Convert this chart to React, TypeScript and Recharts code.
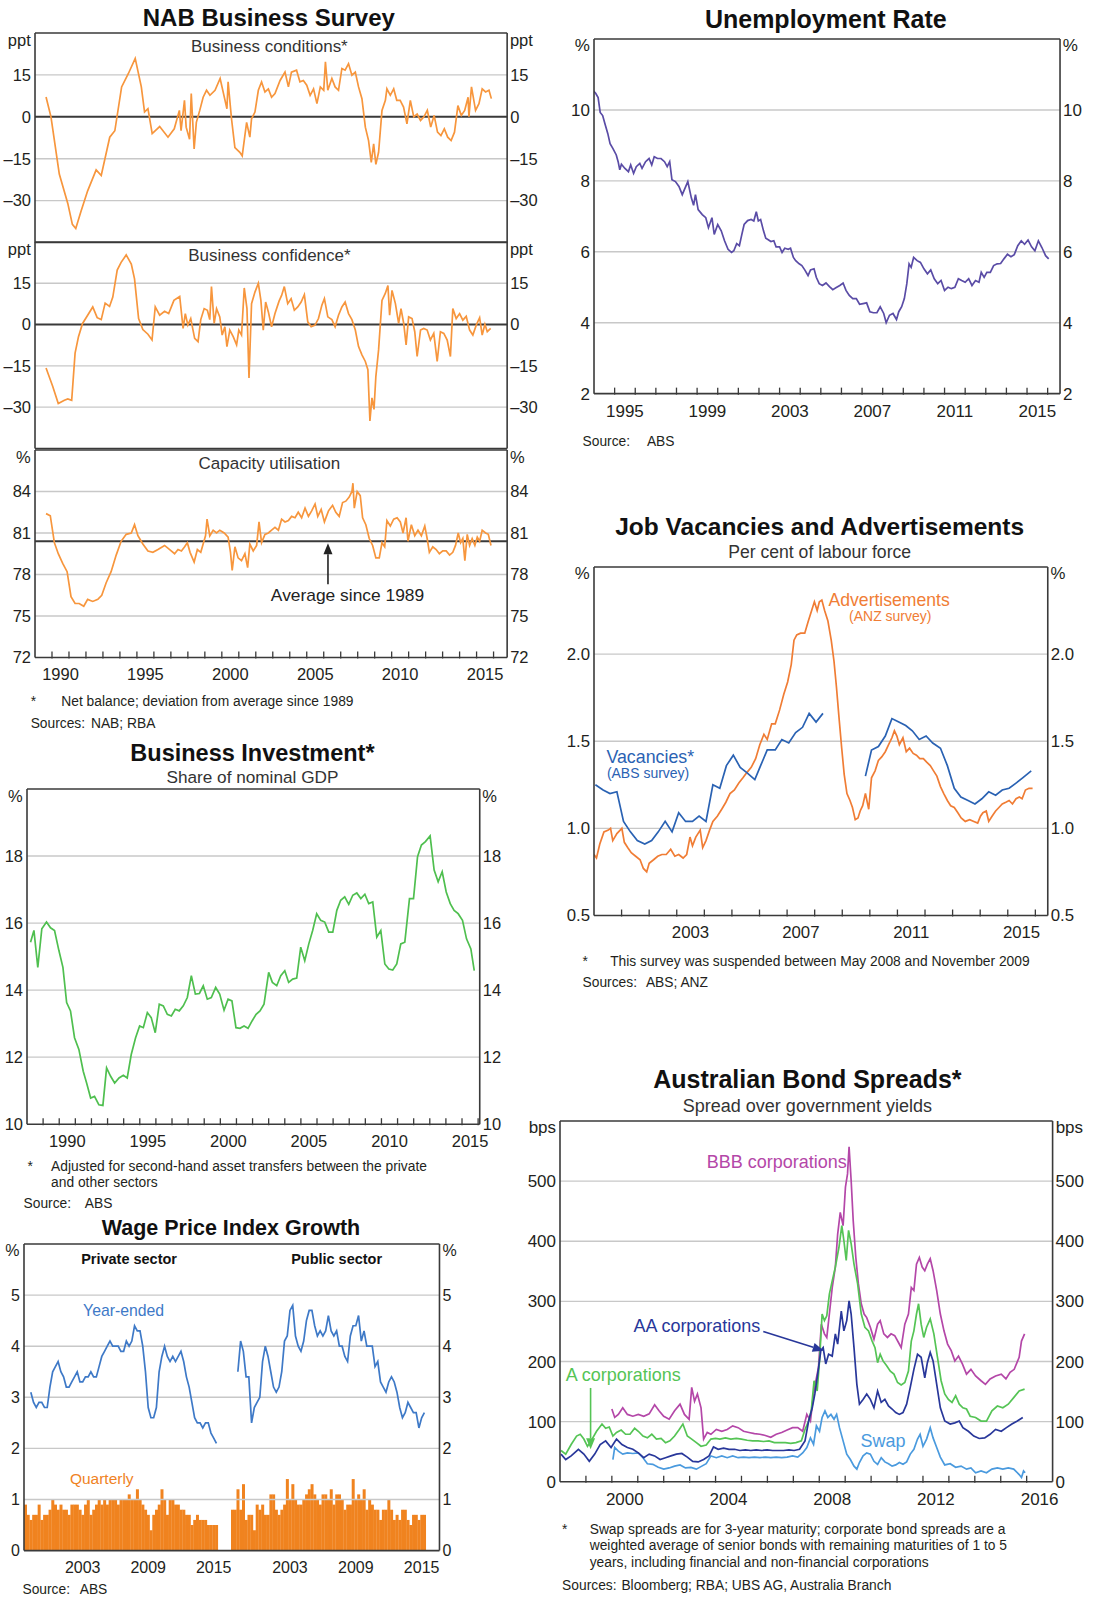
import React from 'react';
import { ComposedChart, Line, Bar, XAxis, YAxis, ReferenceLine, ReferenceDot } from 'recharts';

const FONT = '"Liberation Sans", Arial, Helvetica, sans-serif';
const TXT = '#231f20';
const GRID = '#c8c8c8';
const FRAME = '#3a3a3a';

// ---------------- DATA ----------------
// NAB business conditions (ppt, deviation from average) [year, value]
const nabConditions = [[1989.65,7.1],[1989.94,0],[1990.43,-20.5],[1990.93,-31],[1991.2,-38.5],[1991.4,-40],[1991.7,-34],[1992.1,-26.5],[1992.6,-19],[1992.9,-21],[1993.4,-7.3],[1993.7,-5],[1994.1,10.7],[1994.5,15.5],[1994.9,20.9],[1995.26,10.7],[1995.45,1.7],[1995.65,2.9],[1995.9,-6],[1996.34,-3.5],[1996.83,-7.3],[1997.2,-4.3],[1997.5,2.3],[1997.6,-5],[1997.8,5.9],[1997.9,-3.7],[1998.1,-8],[1998.2,8.3],[1998.37,-11.5],[1998.5,-2],[1998.7,2.3],[1998.9,7],[1999.1,9.5],[1999.3,7.7],[1999.6,9.5],[1999.9,13.7],[2000.1,8.3],[2000.3,2.9],[2000.37,12.5],[2000.57,-0.7],[2000.77,-11],[2001.06,-12.7],[2001.2,-14],[2001.46,-2],[2001.65,-7.3],[2001.75,-0.7],[2001.95,1.7],[2002.15,9.5],[2002.34,12.5],[2002.54,8.9],[2002.74,10],[2002.93,7],[2003.13,8.3],[2003.43,13],[2003.72,16],[2003.92,10.7],[2004.1,16],[2004.4,16.7],[2004.6,12.5],[2004.8,13],[2005.0,11.3],[2005.2,7.7],[2005.4,10],[2005.6,4.7],[2005.8,10.7],[2006.0,9.5],[2006.1,19.7],[2006.24,9.5],[2006.48,13.7],[2006.67,10.7],[2006.87,9.5],[2007.07,17.3],[2007.26,16.7],[2007.46,19],[2007.66,14.9],[2007.86,16],[2008.05,10.7],[2008.25,6.5],[2008.45,-3.7],[2008.64,-8.5],[2008.8,-16.3],[2008.94,-9.7],[2009.07,-17],[2009.23,-12.7],[2009.43,2.3],[2009.63,5.9],[2009.72,10],[2009.92,7.7],[2010.12,10],[2010.3,5.9],[2010.5,5.9],[2010.7,3.5],[2010.9,-2.5],[2011.1,5.9],[2011.3,0],[2011.5,1],[2011.7,-1.3],[2011.9,0],[2012.1,2.3],[2012.3,-3.7],[2012.5,0.5],[2012.7,-5.5],[2012.9,-6.7],[2013.1,-4.3],[2013.3,-7.3],[2013.5,-8.5],[2013.7,-5.5],[2013.9,4],[2014.1,0.5],[2014.3,2.3],[2014.5,7],[2014.55,0],[2014.7,10.7],[2014.94,2.3],[2015.14,4.7],[2015.33,10],[2015.53,8.9],[2015.73,9.5],[2015.87,6.5]];

// NAB business confidence (ppt)
const nabConfidence = [[1989.65,-15.8],[1990.04,-22.4],[1990.37,-28.7],[1990.73,-27.5],[1990.93,-27],[1991.16,-27.5],[1991.36,-10.4],[1991.56,-4.4],[1991.8,0.4],[1992.1,3.4],[1992.4,6.4],[1992.66,2.5],[1992.9,1.8],[1993.13,7.8],[1993.39,6.6],[1993.58,10],[1993.84,19.8],[1994.07,22.6],[1994.37,25.3],[1994.67,22],[1994.86,16.6],[1995.1,2.2],[1995.35,-1.8],[1995.65,-3.5],[1995.89,-5.6],[1996.08,6.4],[1996.34,3.4],[1996.63,4.8],[1996.87,4],[1997.18,8.8],[1997.52,10.2],[1997.72,-1.4],[1997.85,4],[1998.0,-0.2],[1998.17,2.2],[1998.4,-5],[1998.6,-6.2],[1998.76,1.8],[1998.96,5.8],[1999.15,5.2],[1999.29,1.8],[1999.39,13.8],[1999.55,0.4],[1999.69,5.8],[1999.88,2.8],[2000.02,-3.8],[2000.18,-0.8],[2000.3,-8],[2000.47,-2],[2000.67,-4.4],[2000.87,-7.4],[2001.0,-2],[2001.16,-3.8],[2001.32,13.3],[2001.48,5.8],[2001.6,-19.4],[2001.75,7.6],[2001.95,11.8],[2002.15,15],[2002.3,8.8],[2002.44,-2],[2002.58,8.2],[2002.74,4.6],[2002.93,-0.8],[2003.13,4],[2003.37,8.5],[2003.52,10.6],[2003.68,13.8],[2003.88,7.6],[2004.08,9.4],[2004.27,5.2],[2004.47,6.4],[2004.67,8.2],[2004.86,10.9],[2005.06,1],[2005.26,-0.8],[2005.49,-0.2],[2005.69,2.2],[2005.89,7],[2006.04,9.4],[2006.24,2.8],[2006.48,1.8],[2006.67,-0.8],[2006.87,3.4],[2007.07,6.4],[2007.26,8.2],[2007.46,4],[2007.66,1.8],[2007.86,-2],[2008.05,-8],[2008.25,-11],[2008.45,-13.4],[2008.6,-16.4],[2008.72,-35],[2008.84,-26.6],[2008.96,-30.8],[2009.07,-18.8],[2009.23,-9.2],[2009.43,8.8],[2009.63,11.4],[2009.78,14.2],[2009.88,3.4],[2010.02,12.4],[2010.22,7.6],[2010.41,0.4],[2010.55,5.8],[2010.71,0.4],[2010.85,-7.4],[2011.0,2.8],[2011.2,2.2],[2011.36,-2.6],[2011.5,-11.6],[2011.7,-2],[2011.89,-1.4],[2012.09,-2],[2012.28,-5.6],[2012.48,-3.2],[2012.68,-13.4],[2012.87,-2.6],[2013.07,-3.2],[2013.27,-5.6],[2013.46,-11.6],[2013.6,5.8],[2013.8,2.2],[2014.0,4],[2014.19,1.6],[2014.39,3],[2014.59,-2],[2014.78,-3.8],[2014.98,-0.2],[2015.18,2.5],[2015.33,-3.8],[2015.49,0.1],[2015.63,-2.6],[2015.83,-1.4]];

// NAB capacity utilisation (%)
const nabCapacity = [[1989.65,82.4],[1989.9,82.25],[1990.14,80.3],[1990.37,79.5],[1990.63,78.8],[1990.89,78.2],[1991.12,76.4],[1991.36,75.9],[1991.6,75.9],[1991.87,75.7],[1992.1,76.2],[1992.4,76.05],[1992.7,76.2],[1992.93,76.5],[1993.19,77.4],[1993.48,78.2],[1993.78,79.4],[1994.07,80.4],[1994.37,80.9],[1994.67,81.0],[1994.86,81.6],[1995.06,80.8],[1995.35,80.2],[1995.65,79.7],[1995.94,79.6],[1996.24,79.8],[1996.63,80.1],[1996.93,79.8],[1997.22,79.5],[1997.42,79.8],[1997.62,79.7],[1997.81,80.0],[1997.97,80.3],[1998.13,79.6],[1998.37,78.9],[1998.56,79.8],[1998.76,79.6],[1998.9,80.2],[1999.04,80.8],[1999.13,82.0],[1999.29,80.8],[1999.49,81.2],[1999.69,81.0],[1999.88,81.2],[2000.14,81.0],[2000.37,80.7],[2000.51,79.6],[2000.61,78.3],[2000.77,80.0],[2000.96,79.2],[2001.16,79.0],[2001.36,79.5],[2001.52,78.5],[2001.65,80.2],[2001.85,79.7],[2002.05,80.1],[2002.19,81.8],[2002.34,80.3],[2002.54,80.9],[2002.74,81.0],[2002.93,81.2],[2003.13,81.4],[2003.33,81.2],[2003.52,82.0],[2003.72,81.8],[2003.92,81.9],[2004.11,82.2],[2004.31,82.1],[2004.5,82.5],[2004.7,82.1],[2004.9,82.8],[2005.1,82.2],[2005.29,82.6],[2005.49,83.1],[2005.65,82.2],[2005.85,82.7],[2006.04,81.8],[2006.28,82.6],[2006.52,83.0],[2006.71,82.5],[2006.91,82.2],[2007.11,83.2],[2007.3,83.3],[2007.5,83.6],[2007.66,84.0],[2007.72,84.6],[2007.8,82.8],[2007.97,84.0],[2008.15,83.7],[2008.29,82.1],[2008.48,81.6],[2008.68,80.6],[2008.88,80.1],[2009.07,79.2],[2009.27,79.2],[2009.43,80.3],[2009.59,80.0],[2009.72,81.9],[2009.92,81.5],[2010.12,82.0],[2010.32,82.1],[2010.51,81.8],[2010.67,81.0],[2010.85,82.1],[2010.96,80.4],[2011.16,81.6],[2011.36,80.8],[2011.55,81.2],[2011.75,80.8],[2011.95,81.5],[2012.09,80.6],[2012.22,79.6],[2012.42,80.0],[2012.62,79.8],[2012.81,79.5],[2013.01,79.7],[2013.21,79.7],[2013.41,79.4],[2013.6,79.6],[2013.76,80.1],[2013.92,81.0],[2014.06,80.3],[2014.19,80.6],[2014.31,79.0],[2014.45,80.9],[2014.59,80.1],[2014.74,80.6],[2014.9,80.1],[2015.04,80.7],[2015.18,80.4],[2015.33,81.2],[2015.53,81.0],[2015.69,80.9],[2015.85,80.1]];
const capacityAverage = 80.4;

// Unemployment rate (%)
const unemployment = [[1993.97,10.54],[1994.08,10.47],[1994.2,10.35],[1994.3,9.93],[1994.42,9.84],[1994.53,9.61],[1994.67,9.33],[1994.78,9.05],[1994.92,8.91],[1995.08,8.73],[1995.17,8.54],[1995.25,8.31],[1995.33,8.47],[1995.5,8.35],[1995.67,8.26],[1995.78,8.45],[1995.92,8.21],[1996.05,8.4],[1996.22,8.49],[1996.33,8.35],[1996.5,8.54],[1996.67,8.63],[1996.8,8.45],[1996.92,8.68],[1997.08,8.63],[1997.25,8.63],[1997.42,8.54],[1997.55,8.4],[1997.67,8.54],[1997.78,8.03],[1997.95,7.98],[1998.12,7.84],[1998.28,7.61],[1998.42,7.8],[1998.55,7.98],[1998.72,7.52],[1998.83,7.31],[1998.92,7.61],[1999.05,7.19],[1999.25,7.05],[1999.42,6.96],[1999.55,6.68],[1999.72,6.96],[1999.83,6.49],[2000.0,6.77],[2000.17,6.59],[2000.33,6.31],[2000.5,6.07],[2000.67,5.98],[2000.78,6.03],[2000.92,6.23],[2001.05,6.17],[2001.17,6.49],[2001.28,6.77],[2001.45,6.88],[2001.62,6.91],[2001.75,6.87],[2001.87,7.13],[2001.97,6.87],[2002.08,6.91],[2002.22,6.59],[2002.33,6.38],[2002.45,6.34],[2002.58,6.29],[2002.72,6.31],[2002.83,6.14],[2003.0,6.14],[2003.12,5.98],[2003.25,6.1],[2003.42,6.07],[2003.53,6.1],[2003.67,5.84],[2003.78,5.75],[2003.95,5.66],[2004.08,5.61],[2004.22,5.49],[2004.38,5.33],[2004.5,5.49],[2004.67,5.52],[2004.78,5.28],[2004.92,5.1],[2005.08,5.05],[2005.25,5.12],[2005.42,5.02],[2005.58,4.93],[2005.75,4.99],[2005.92,5.05],[2006.08,5.12],[2006.22,4.91],[2006.38,4.77],[2006.55,4.68],[2006.72,4.68],[2006.88,4.52],[2007.05,4.54],[2007.22,4.56],[2007.38,4.31],[2007.55,4.28],[2007.72,4.28],[2007.88,4.45],[2008.05,4.26],[2008.17,4.0],[2008.33,4.21],[2008.5,4.26],[2008.67,4.09],[2008.78,4.31],[2008.92,4.45],[2009.05,4.68],[2009.17,5.1],[2009.28,5.66],[2009.38,5.56],[2009.5,5.84],[2009.67,5.75],[2009.83,5.7],[2010.0,5.52],[2010.17,5.38],[2010.33,5.49],[2010.5,5.24],[2010.67,5.1],[2010.83,5.19],[2011.0,4.91],[2011.17,5.0],[2011.33,4.96],[2011.5,5.0],[2011.67,5.24],[2011.83,5.19],[2012.0,5.14],[2012.17,5.24],[2012.33,5.05],[2012.5,5.19],[2012.67,5.14],[2012.78,5.42],[2012.92,5.28],[2013.05,5.42],[2013.22,5.42],[2013.38,5.61],[2013.55,5.66],[2013.72,5.67],[2013.88,5.8],[2014.05,5.93],[2014.22,5.86],[2014.38,5.92],[2014.55,6.17],[2014.72,6.31],[2014.88,6.21],[2015.05,6.33],[2015.22,6.14],[2015.38,6.03],[2015.55,6.31],[2015.72,6.12],[2015.9,5.89],[2016.05,5.8]];

// Business investment, share of nominal GDP (%)
const businessInvestment = [[1988.22,15.43],[1988.43,15.78],[1988.67,14.68],[1988.92,15.83],[1989.21,16.03],[1989.46,15.86],[1989.71,15.78],[1989.98,15.18],[1990.23,14.68],[1990.46,13.63],[1990.7,13.38],[1990.95,12.58],[1991.22,12.23],[1991.49,11.58],[1991.7,11.23],[1991.95,10.78],[1992.19,10.83],[1992.46,10.58],[1992.71,10.56],[1992.94,11.68],[1993.19,11.43],[1993.44,11.23],[1993.71,11.38],[1993.98,11.46],[1994.22,11.38],[1994.47,12.08],[1994.74,12.58],[1994.99,12.93],[1995.22,12.88],[1995.47,13.33],[1995.71,13.18],[1995.96,12.73],[1996.21,13.58],[1996.46,13.53],[1996.71,13.28],[1996.96,13.23],[1997.2,13.43],[1997.45,13.38],[1997.7,13.53],[1997.95,13.78],[1998.2,14.43],[1998.45,13.88],[1998.7,13.9],[1998.94,14.13],[1999.19,13.73],[1999.44,13.78],[1999.71,14.08],[1999.96,13.88],[2000.23,13.4],[2000.48,13.73],[2000.72,13.68],[2000.97,12.88],[2001.22,12.86],[2001.47,12.93],[2001.72,12.86],[2001.97,13.08],[2002.22,13.28],[2002.46,13.38],[2002.71,13.58],[2003.0,14.53],[2003.23,14.23],[2003.5,14.13],[2003.75,14.43],[2004.0,14.58],[2004.24,14.23],[2004.49,14.33],[2004.74,14.36],[2004.99,15.28],[2005.24,14.88],[2005.49,15.38],[2005.73,15.78],[2005.98,16.28],[2006.23,16.08],[2006.48,16.03],[2006.73,15.73],[2006.98,15.73],[2007.23,16.38],[2007.47,16.68],[2007.72,16.78],[2007.97,16.56],[2008.22,16.83],[2008.47,16.9],[2008.72,16.73],[2008.97,16.86],[2009.21,16.58],[2009.46,16.63],[2009.71,15.58],[2009.96,15.78],[2010.21,14.78],[2010.46,14.63],[2010.7,14.6],[2010.95,14.78],[2011.2,15.38],[2011.45,15.43],[2011.74,16.73],[2011.99,16.73],[2012.24,17.98],[2012.48,18.33],[2012.73,18.43],[2013.02,18.6],[2013.27,17.58],[2013.52,17.23],[2013.77,17.53],[2014.02,16.93],[2014.27,16.58],[2014.51,16.38],[2014.76,16.28],[2015.03,16.08],[2015.28,15.53],[2015.55,15.23],[2015.76,14.58]];

// Job advertisements (ANZ), per cent of labour force
const advertisements = [[2000.0,0.85],[2000.09,0.83],[2000.21,0.91],[2000.36,0.98],[2000.52,0.99],[2000.6,1.0],[2000.68,0.93],[2000.83,0.97],[2000.95,0.99],[2001.01,1.0],[2001.1,0.92],[2001.22,0.89],[2001.35,0.86],[2001.51,0.84],[2001.67,0.82],[2001.79,0.77],[2001.91,0.75],[2002.0,0.8],[2002.16,0.82],[2002.31,0.84],[2002.46,0.85],[2002.62,0.85],[2002.78,0.88],[2002.93,0.84],[2003.07,0.85],[2003.23,0.83],[2003.36,0.85],[2003.48,0.95],[2003.57,0.9],[2003.69,0.95],[2003.85,0.99],[2003.94,0.89],[2004.06,0.93],[2004.19,0.99],[2004.31,1.04],[2004.47,1.07],[2004.63,1.11],[2004.78,1.15],[2004.93,1.2],[2005.09,1.22],[2005.25,1.26],[2005.4,1.29],[2005.54,1.32],[2005.7,1.35],[2005.86,1.4],[2006.01,1.48],[2006.16,1.54],[2006.28,1.51],[2006.44,1.6],[2006.57,1.6],[2006.73,1.68],[2006.88,1.77],[2007.02,1.84],[2007.15,1.94],[2007.25,2.08],[2007.35,2.11],[2007.49,2.12],[2007.64,2.12],[2007.77,2.19],[2007.89,2.25],[2007.99,2.3],[2008.09,2.25],[2008.17,2.3],[2008.26,2.31],[2008.36,2.25],[2008.48,2.19],[2008.6,2.08],[2008.7,1.96],[2008.79,1.81],[2008.88,1.64],[2008.98,1.46],[2009.07,1.31],[2009.17,1.2],[2009.28,1.16],[2009.37,1.12],[2009.47,1.05],[2009.57,1.06],[2009.65,1.1],[2009.74,1.13],[2009.84,1.2],[2009.96,1.11],[2010.06,1.29],[2010.19,1.33],[2010.31,1.39],[2010.43,1.41],[2010.56,1.44],[2010.68,1.48],[2010.8,1.52],[2010.89,1.56],[2010.98,1.53],[2011.07,1.48],[2011.2,1.52],[2011.32,1.44],[2011.44,1.46],[2011.57,1.43],[2011.69,1.42],[2011.81,1.4],[2011.94,1.4],[2012.06,1.38],[2012.19,1.36],[2012.31,1.33],[2012.43,1.3],[2012.56,1.24],[2012.68,1.2],[2012.81,1.16],[2012.93,1.13],[2013.06,1.12],[2013.19,1.09],[2013.31,1.06],[2013.46,1.04],[2013.62,1.05],[2013.77,1.04],[2013.91,1.03],[2014.01,1.07],[2014.1,1.09],[2014.22,1.1],[2014.31,1.04],[2014.43,1.07],[2014.56,1.1],[2014.68,1.12],[2014.8,1.14],[2014.93,1.15],[2015.05,1.16],[2015.17,1.14],[2015.3,1.17],[2015.42,1.18],[2015.52,1.17],[2015.64,1.22],[2015.77,1.23],[2015.9,1.23]];
// Job vacancies (ABS), survey suspended May 2008 - Nov 2009
const vacanciesPre = [[2000.05,1.25],[2000.33,1.22],[2000.58,1.2],[2000.83,1.21],[2001.07,1.04],[2001.32,0.98],[2001.57,0.93],[2001.84,0.91],[2002.09,0.93],[2002.33,0.98],[2002.58,1.04],[2002.83,0.98],[2003.07,1.09],[2003.32,1.04],[2003.57,1.04],[2003.81,1.07],[2004.06,1.04],[2004.31,1.25],[2004.56,1.23],[2004.8,1.36],[2005.05,1.42],[2005.3,1.35],[2005.54,1.32],[2005.83,1.28],[2006.04,1.36],[2006.28,1.45],[2006.57,1.45],[2006.81,1.51],[2007.06,1.49],[2007.31,1.55],[2007.56,1.58],[2007.8,1.66],[2008.05,1.61],[2008.3,1.66]];
const vacanciesPost = [[2009.84,1.3],[2010.06,1.45],[2010.31,1.47],[2010.56,1.53],[2010.8,1.63],[2011.05,1.61],[2011.3,1.59],[2011.54,1.56],[2011.79,1.51],[2012.04,1.53],[2012.28,1.49],[2012.56,1.46],[2012.81,1.36],[2013.06,1.23],[2013.3,1.18],[2013.56,1.16],[2013.81,1.14],[2014.06,1.17],[2014.31,1.21],[2014.56,1.19],[2014.8,1.22],[2015.05,1.23],[2015.3,1.26],[2015.54,1.29],[2015.85,1.33]];

// Wage price index growth (%), quarterly from 1998Q1; year-ended from 1998Q3
const wageQuarters = Array.from({ length: 76 }, (_, i) => `${1998 + Math.floor(i / 4)}Q${(i % 4) + 1}`);
const privateQuarterly = [0.9,0.7,0.6,0.7,0.7,0.9,0.6,0.7,0.7,0.8,1.0,0.9,0.8,0.9,0.8,0.8,0.7,0.9,0.9,0.9,0.8,0.7,0.9,1.0,0.7,0.8,0.9,1.0,0.9,1.0,0.9,1.0,1.0,1.0,0.9,1.0,1.0,1.0,1.1,1.0,1.0,1.2,1.0,0.9,0.8,0.7,0.4,0.7,0.8,0.9,1.2,1.0,0.7,1.0,1.0,0.9,0.9,0.8,0.8,0.7,0.7,0.5,0.6,0.7,0.6,0.6,0.6,0.5,0.5,0.5,0.5];
const privateYearEnded = [3.1,2.9,2.8,2.9,2.9,2.8,2.8,3.2,3.5,3.6,3.7,3.5,3.4,3.2,3.2,3.3,3.4,3.5,3.3,3.3,3.4,3.4,3.5,3.4,3.4,3.6,3.8,3.9,4.0,4.1,4.0,4.0,4.0,3.9,3.9,4.1,4.0,4.1,4.4,4.3,4.3,4.0,3.5,2.8,2.6,2.6,2.8,3.5,3.8,4.0,3.8,3.7,3.8,3.7,3.8,3.9,3.7,3.4,3.2,2.9,2.6,2.5,2.5,2.4,2.5,2.5,2.3,2.2,2.1];
const publicQuarterly = [0.8,0.8,1.2,0.8,1.3,0.6,0.7,0.7,0.4,0.9,0.8,0.9,0.7,0.7,1.1,1.1,0.8,0.7,0.8,0.9,1.4,1.0,1.3,1.0,0.9,0.9,1.0,1.1,1.2,1.3,1.1,1.0,0.9,1.1,1.1,1.0,1.2,0.9,1.1,1.1,1.0,0.8,0.9,0.9,1.4,1.0,1.1,1.0,1.2,0.8,1.0,0.9,0.8,0.8,0.6,0.8,0.8,1.0,0.8,0.6,0.7,0.6,0.8,0.8,0.6,0.5,0.7,0.7,0.6,0.7,0.7];
const publicYearEnded = [3.5,4.1,3.9,3.4,3.4,2.5,2.8,2.9,3.0,3.7,4.0,3.8,3.5,3.2,3.1,3.2,3.5,4.1,4.2,4.7,4.8,4.2,4.0,3.9,4.1,4.5,4.7,4.7,4.4,4.2,4.3,4.2,4.3,4.6,4.3,4.2,4.3,4.0,4.0,3.8,3.7,4.2,4.4,4.4,4.6,4.1,4.3,4.0,4.0,4.0,3.6,3.7,3.3,3.2,3.1,3.3,3.4,3.3,3.1,2.8,2.6,2.7,2.9,2.8,2.7,2.7,2.4,2.6,2.7];
const yearEndedStart = 2;

// Australian bond spreads (bps)
const spreadA = [[1998.04,52],[1998.22,46],[1998.43,62],[1998.64,76],[1998.78,79],[1998.92,71],[1999.06,59],[1999.2,68],[1999.41,84],[1999.62,96],[1999.76,89],[1999.9,91],[2000.04,76],[2000.18,82],[2000.36,86],[2000.53,79],[2000.7,79],[2000.88,89],[2001.02,84],[2001.2,76],[2001.37,73],[2001.54,79],[2001.72,71],[2001.9,72],[2002.07,65],[2002.24,68],[2002.42,76],[2002.6,87],[2002.74,96],[2002.91,76],[2003.08,71],[2003.26,65],[2003.44,59],[2003.64,61],[2003.82,71],[2004.0,72],[2004.17,71],[2004.38,73],[2004.59,71],[2004.8,72],[2005.0,71],[2005.22,69],[2005.43,68],[2005.64,68],[2005.85,67],[2006.06,68],[2006.27,65],[2006.48,65],[2006.69,65],[2006.9,64],[2007.1,65],[2007.31,68],[2007.45,87],[2007.59,101],[2007.69,118],[2007.8,168],[2007.92,151],[2008.01,201],[2008.11,279],[2008.2,268],[2008.29,276],[2008.39,312],[2008.5,334],[2008.62,357],[2008.76,390],[2008.87,426],[2008.95,401],[2009.04,368],[2009.13,418],[2009.23,396],[2009.34,362],[2009.48,329],[2009.62,279],[2009.76,257],[2009.9,251],[2010.04,234],[2010.15,223],[2010.25,198],[2010.35,212],[2010.46,201],[2010.6,193],[2010.74,184],[2010.88,179],[2011.02,165],[2011.16,161],[2011.3,165],[2011.44,184],[2011.55,234],[2011.65,251],[2011.75,279],[2011.83,296],[2011.93,262],[2012.03,240],[2012.14,257],[2012.28,271],[2012.42,246],[2012.56,207],[2012.7,168],[2012.84,146],[2012.98,137],[2013.12,132],[2013.26,143],[2013.4,129],[2013.54,123],[2013.68,121],[2013.82,109],[2014.03,107],[2014.24,101],[2014.45,101],[2014.66,118],[2014.87,126],[2015.08,123],[2015.29,129],[2015.5,140],[2015.71,151],[2015.92,154]];
const spreadAA = [[1998.04,46],[1998.22,37],[1998.43,43],[1998.71,54],[1998.92,46],[1999.13,34],[1999.34,46],[1999.55,62],[1999.76,68],[1999.97,57],[2000.18,71],[2000.39,62],[2000.6,57],[2000.81,54],[2001.02,48],[2001.23,40],[2001.44,46],[2001.65,43],[2001.86,37],[2002.07,40],[2002.28,43],[2002.49,46],[2002.7,47],[2002.91,41],[2003.12,34],[2003.33,33],[2003.54,37],[2003.75,43],[2003.92,58],[2004.1,54],[2004.31,56],[2004.52,54],[2004.73,54],[2004.94,52],[2005.15,53],[2005.36,52],[2005.57,53],[2005.78,52],[2005.99,53],[2006.2,52],[2006.41,52],[2006.62,52],[2006.83,53],[2007.03,52],[2007.24,54],[2007.45,68],[2007.59,101],[2007.73,123],[2007.83,146],[2007.94,179],[2008.06,218],[2008.15,223],[2008.25,196],[2008.36,212],[2008.5,209],[2008.62,246],[2008.71,229],[2008.85,284],[2008.95,251],[2009.06,268],[2009.15,301],[2009.23,279],[2009.34,223],[2009.45,162],[2009.55,129],[2009.69,137],[2009.83,146],[2009.97,137],[2010.11,123],[2010.25,151],[2010.39,132],[2010.53,137],[2010.67,126],[2010.81,121],[2010.95,115],[2011.09,112],[2011.23,115],[2011.37,129],[2011.51,157],[2011.65,187],[2011.79,212],[2011.93,207],[2012.07,173],[2012.17,198],[2012.28,215],[2012.39,201],[2012.53,162],[2012.67,123],[2012.84,101],[2013.05,96],[2013.23,98],[2013.4,101],[2013.54,90],[2013.75,84],[2013.96,76],[2014.17,72],[2014.38,73],[2014.59,79],[2014.8,87],[2015.02,84],[2015.22,90],[2015.43,96],[2015.64,101],[2015.85,107]];
const spreadBBB = [[2000.0,121],[2000.11,107],[2000.25,112],[2000.42,123],[2000.6,112],[2000.81,109],[2001.02,112],[2001.23,109],[2001.44,113],[2001.65,128],[2001.82,118],[2002.0,109],[2002.21,104],[2002.42,118],[2002.63,129],[2002.8,112],[2002.98,104],[2003.08,157],[2003.19,134],[2003.3,146],[2003.44,123],[2003.54,71],[2003.68,82],[2003.82,79],[2004.03,87],[2004.24,84],[2004.45,87],[2004.66,93],[2004.87,90],[2005.08,84],[2005.29,82],[2005.5,80],[2005.71,79],[2005.92,77],[2006.13,74],[2006.34,79],[2006.55,82],[2006.76,86],[2006.97,90],[2007.17,90],[2007.36,84],[2007.52,112],[2007.66,101],[2007.78,146],[2007.87,168],[2007.97,190],[2008.08,262],[2008.2,246],[2008.29,240],[2008.39,279],[2008.5,323],[2008.62,357],[2008.71,412],[2008.81,448],[2008.92,426],[2009.01,490],[2009.09,512],[2009.15,557],[2009.23,501],[2009.31,434],[2009.41,373],[2009.51,329],[2009.62,296],[2009.73,279],[2009.83,273],[2009.97,257],[2010.11,237],[2010.25,262],[2010.35,268],[2010.49,246],[2010.63,240],[2010.77,246],[2010.91,243],[2011.05,232],[2011.16,223],[2011.3,262],[2011.44,279],[2011.55,323],[2011.65,318],[2011.75,362],[2011.86,373],[2011.97,357],[2012.07,351],[2012.17,362],[2012.28,371],[2012.39,351],[2012.53,318],[2012.67,279],[2012.81,251],[2012.95,229],[2013.09,218],[2013.23,201],[2013.37,209],[2013.52,196],[2013.68,179],[2013.85,187],[2014.03,176],[2014.24,168],[2014.41,162],[2014.59,171],[2014.8,176],[2015.02,179],[2015.2,171],[2015.36,182],[2015.52,187],[2015.71,207],[2015.8,234],[2015.92,246]];
const spreadSwap = [[2000.04,37],[2000.11,57],[2000.25,51],[2000.42,46],[2000.6,48],[2000.81,47],[2001.02,48],[2001.2,40],[2001.37,30],[2001.58,29],[2001.79,24],[2002.0,21],[2002.21,23],[2002.42,26],[2002.63,28],[2002.84,23],[2003.05,24],[2003.26,21],[2003.47,26],[2003.64,30],[2003.82,43],[2004.03,40],[2004.24,43],[2004.45,40],[2004.66,43],[2004.87,40],[2005.08,41],[2005.29,40],[2005.5,41],[2005.71,40],[2005.92,41],[2006.13,40],[2006.34,41],[2006.55,40],[2006.76,41],[2006.97,43],[2007.17,41],[2007.36,48],[2007.52,57],[2007.66,73],[2007.78,62],[2007.89,93],[2008.01,84],[2008.11,107],[2008.22,118],[2008.33,107],[2008.45,112],[2008.57,104],[2008.67,112],[2008.78,90],[2008.92,68],[2009.06,46],[2009.2,37],[2009.34,26],[2009.45,21],[2009.55,32],[2009.69,43],[2009.83,48],[2009.97,46],[2010.11,34],[2010.25,29],[2010.39,40],[2010.53,33],[2010.67,30],[2010.81,26],[2010.95,28],[2011.09,32],[2011.23,29],[2011.37,33],[2011.51,46],[2011.65,54],[2011.79,71],[2011.89,79],[2012.0,59],[2012.14,71],[2012.28,90],[2012.39,73],[2012.53,57],[2012.67,41],[2012.84,28],[2013.05,30],[2013.26,24],[2013.47,26],[2013.68,21],[2013.85,23],[2014.03,15],[2014.24,18],[2014.45,15],[2014.66,21],[2014.87,23],[2015.08,21],[2015.29,23],[2015.5,21],[2015.71,12],[2015.8,7],[2015.88,18],[2015.94,15]];

// ---------------- helpers ----------------
const S = 1.022; // page layout scale
const k = (v: number) => v * S;
const rows = (pairs: number[][]) => pairs.map(([x, y]) => ({ x, y }));
const range = (a: number, b: number, step = 1) => { const r: number[] = []; for (let v = a; v <= b + 1e-9; v += step) r.push(v); return r; };
const dashFmt = (v: number) => (v < 0 ? '\u2013' + Math.abs(v) : String(v));

const Txt = ({ x, y, children, size = 13.8, bold = false, color = TXT, anchor = 'start' }: any) => (
  <div style={{ position: 'absolute', left: x, top: y, transform: `translate(${anchor === 'middle' ? '-50%' : anchor === 'end' ? '-100%' : '0'}, -50%)`, fontSize: size, fontWeight: bold ? 700 : 400, color, fontFamily: FONT, whiteSpace: 'nowrap', lineHeight: 1.1 }}>{children}</div>
);

const InTick = (props: any) => {
  const { x, y } = props;
  return <line x1={x} x2={x} y1={y} y2={y - 7} stroke={FRAME} strokeWidth={1.3} />;
};

const textShape = (label: string, color: string, size = 17, anchor = 'middle', weight = 400) => (p: any) => (
  <text x={p.cx} y={p.cy} textAnchor={anchor} dominantBaseline="central" fill={color} fontSize={size} fontFamily={FONT} fontWeight={weight}>{label}</text>
);

const arrowShape = (color: string) => (p: any) => {
  const { x1, y1, x2, y2 } = p;
  const a = Math.atan2(y2 - y1, x2 - x1);
  const L = 11, w = 4.5;
  const bx = x2 - L * Math.cos(a), by = y2 - L * Math.sin(a);
  const pts = `${x2},${y2} ${bx + w * Math.sin(a)},${by - w * Math.cos(a)} ${bx - w * Math.sin(a)},${by + w * Math.cos(a)}`;
  return <g><line x1={x1} y1={y1} x2={bx} y2={by} stroke={color} strokeWidth={1.6} /><polygon points={pts} fill={color} /></g>;
};

type PanelCfg = {
  px0: number; px1: number; py0: number; py1: number;
  yWL: number; yWR: number; mt?: number; mb?: number;
  xDomain?: [number, number]; category?: boolean; data?: any[];
  yDomain: [number, number]; yTicks: number[]; grid: number[];
  yFmt?: (v: number) => string; unit?: string; fs?: number;
  leftLabels?: boolean; rightLabels?: boolean;
  tickYears?: number[]; labelYears?: number[]; catTicks?: string[];
  children?: any;
};

function Panel(p: PanelCfg) {
  const mt = p.mt ?? 2, mb = p.mb ?? 2;
  const nB = p.tickYears ? 2 : 1;
  const width = p.px1 - p.px0 + p.yWL + p.yWR;
  const height = p.py1 - p.py0 + mt + 1 + mb + nB;
  const fs = p.fs ?? 16.5;
  const tickStyle = { fill: TXT, fontSize: fs, fontFamily: FONT };
  const xProps: any = p.category
    ? { dataKey: 'q', type: 'category' }
    : { dataKey: 'x', type: 'number', domain: p.xDomain, allowDataOverflow: true };
  return (
    <>
      <div style={{ position: 'absolute', left: p.px0 - p.yWL, top: p.py0 - mt - 1, width, height }}>
        <ComposedChart width={width} height={height} data={p.data} margin={{ top: mt, right: 0, bottom: mb, left: 0 }} barCategoryGap={0} barGap={0}>
          {p.grid.map((v) => <ReferenceLine key={'g' + v} y={v} stroke={GRID} strokeWidth={1.4} />)}
          <XAxis xAxisId="top" orientation="top" {...xProps} height={1} tick={false} tickLine={false} axisLine={{ stroke: FRAME, strokeWidth: 1.6 }} />
          {p.tickYears ? (
            <XAxis xAxisId="tk" {...xProps} height={1} ticks={p.tickYears} interval={0} tickLine={false} tickSize={0} tickMargin={0} axisLine={false} tick={InTick} />
          ) : null}
          <XAxis xAxisId={0} {...xProps} height={1}
            ticks={p.category ? p.catTicks : p.labelYears}
            interval={0}
            tickFormatter={(v: any) => String(v).slice(0, 4)}
            tick={p.labelYears || p.catTicks ? tickStyle : false}
            tickLine={false} tickSize={0} tickMargin={11}
            axisLine={{ stroke: FRAME, strokeWidth: 1.6 }} />
          <YAxis yAxisId={0} width={p.yWL} domain={p.yDomain} allowDataOverflow ticks={p.yTicks} interval={0}
            tickFormatter={p.yFmt} tick={p.leftLabels ? tickStyle : false} tickLine={false} tickSize={0} tickMargin={4}
            axisLine={{ stroke: FRAME, strokeWidth: 1.6 }} />
          <YAxis yAxisId="r" orientation="right" width={p.yWR} domain={p.yDomain} allowDataOverflow ticks={p.yTicks} interval={0}
            tickFormatter={p.yFmt} tick={p.rightLabels ? tickStyle : false} tickLine={false} tickSize={0} tickMargin={3}
            axisLine={{ stroke: FRAME, strokeWidth: 1.6 }} />
          {p.children}
        </ComposedChart>
      </div>
      {p.unit && p.leftLabels ? <Txt x={p.px0 - 4} y={p.py0 + 7} size={fs} anchor="end">{p.unit}</Txt> : null}
      {p.unit && p.rightLabels ? <Txt x={p.px1 + 3} y={p.py0 + 7} size={fs}>{p.unit}</Txt> : null}
    </>
  );
}

const NAB_ORANGE = '#f7963d';
const UNEMP = '#5a4ca6';
const GREEN = '#4fbf4f';
const ADS = '#f07d35';
const VAC = '#2a62b3';
const WAGE_LINE = '#3e79c7';
const WAGE_BAR = '#f0831f';
const BBB = '#b447a8';
const ACOL = '#55c455';
const AACOL = '#28379a';
const SWAP = '#4a9ade';

const lineProps = { dot: false, isAnimationActive: false, type: 'linear' as const, strokeWidth: 1.7 };

function wageRows(q: number[], ye: number[]) {
  return wageQuarters.map((name, i) => ({
    q: name,
    qtr: i < q.length ? q[i] : null,
    ye: i >= yearEndedStart && i - yearEndedStart < ye.length ? ye[i - yearEndedStart] : null,
  }));
}

export default function App() {
  const nabX: [number, number] = [1989, 2016.8];
  const nabTicks = range(1990, 2016);
  const nabLabels = [1990.5, 1995.5, 2000.5, 2005.5, 2010.5, 2015.5];
  const nabPanel = { px0: k(34), px1: k(496), yWL: 36, yWR: 36, xDomain: nabX, leftLabels: true, rightLabels: true, fs: 16.5 };
  const privData = wageRows(privateQuarterly, privateYearEnded);
  const pubData = wageRows(publicQuarterly, publicYearEnded);
  const wageCommon = { py0: k(1217), py1: k(1517), category: true, yDomain: [0, 6] as [number, number], yTicks: [0, 1, 2, 3, 4, 5], grid: [1, 2, 3, 4, 5], unit: '%', catTicks: ['2003Q2', '2009Q2', '2015Q2'], mb: 30, fs: 16 };

  return (
    <div style={{ position: 'absolute', left: 0, top: 0, width: 1096, height: 1601, background: '#fff', fontFamily: FONT, overflow: 'hidden' }}>
      {/* ---------- NAB Business Survey ---------- */}
      <Txt x={k(263)} y={k(18)} size={24} bold anchor="middle" color="#111">NAB Business Survey</Txt>
      <Panel {...nabPanel} py0={k(32)} py1={k(237)} yDomain={[-45, 30]} yTicks={[-30, -15, 0, 15]} yFmt={dashFmt} grid={[-30, -15, 15]} unit="ppt">
        <ReferenceLine y={0} stroke={FRAME} strokeWidth={2} />
        <Line data={rows(nabConditions)} dataKey="y" stroke={NAB_ORANGE} {...lineProps} />
        <ReferenceDot x={2002.8} y={25.2} r={1} shape={textShape('Business conditions*', '#333', 17)} />
      </Panel>
      <Panel {...nabPanel} py0={k(237)} py1={k(439)} yDomain={[-45, 30]} yTicks={[-30, -15, 0, 15]} yFmt={dashFmt} grid={[-30, -15, 15]} unit="ppt">
        <ReferenceLine y={0} stroke={FRAME} strokeWidth={2} />
        <Line data={rows(nabConfidence)} dataKey="y" stroke={NAB_ORANGE} {...lineProps} />
        <ReferenceDot x={2002.8} y={25.2} r={1} shape={textShape('Business confidence*', '#333', 17)} />
      </Panel>
      <Panel {...nabPanel} py0={k(440)} py1={k(643)} mb={30} yDomain={[72, 87]} yTicks={[72, 75, 78, 81, 84]} grid={[75, 78, 81, 84]} unit="%" tickYears={nabTicks} labelYears={nabLabels}>
        <ReferenceLine y={capacityAverage} stroke={FRAME} strokeWidth={2} />
        <Line data={rows(nabCapacity)} dataKey="y" stroke={NAB_ORANGE} {...lineProps} />
        <ReferenceDot x={2002.8} y={86.05} r={1} shape={textShape('Capacity utilisation', '#333', 17)} />
        <ReferenceLine segment={[{ x: 2006.25, y: 77.3 }, { x: 2006.25, y: 80.25 }]} ifOverflow="visible" shape={arrowShape('#222')} />
        <ReferenceDot x={2007.4} y={76.55} r={1} shape={textShape('Average since 1989', '#222', 17.4)} />
      </Panel>
      <Txt x={k(30)} y={k(687)}>*</Txt>
      <Txt x={k(60)} y={k(687)}>Net balance; deviation from average since 1989</Txt>
      <Txt x={k(30)} y={k(708)}>Sources:</Txt>
      <Txt x={k(89)} y={k(708)}>NAB; RBA</Txt>

      {/* ---------- Unemployment Rate ---------- */}
      <Txt x={k(808)} y={k(20)} size={25} bold anchor="middle" color="#111">Unemployment Rate</Txt>
      <Panel px0={k(581)} px1={k(1037)} py0={k(38)} py1={k(385)} yWL={36} yWR={36} mb={30} xDomain={[1994, 2016.6]} fs={17}
        yDomain={[2, 12]} yTicks={[2, 4, 6, 8, 10]} grid={[4, 6, 8, 10]} unit="%" leftLabels rightLabels
        tickYears={range(1995, 2016)} labelYears={[1995.5, 1999.5, 2003.5, 2007.5, 2011.5, 2015.5]}>
        <Line data={rows(unemployment)} dataKey="y" stroke={UNEMP} {...lineProps} />
      </Panel>
      <Txt x={k(570)} y={k(432)}>Source:</Txt>
      <Txt x={k(633)} y={k(432)}>ABS</Txt>

      {/* ---------- Business Investment ---------- */}
      <Txt x={k(247)} y={k(738)} size={23.5} bold anchor="middle" color="#111">Business Investment*</Txt>
      <Txt x={k(247)} y={k(760)} size={17.2} anchor="middle" color="#333">Share of nominal GDP</Txt>
      <Panel px0={k(26)} px1={k(469)} py0={k(772)} py1={k(1100)} yWL={26} yWR={30} mb={30} xDomain={[1988, 2016.1]} fs={16.5}
        yDomain={[10, 20]} yTicks={[10, 12, 14, 16, 18]} grid={[12, 14, 16, 18]} unit="%" leftLabels rightLabels
        tickYears={range(1989, 2016)} labelYears={[1990.5, 1995.5, 2000.5, 2005.5, 2010.5, 2015.5]}>
        <Line data={rows(businessInvestment)} dataKey="y" stroke={GREEN} {...lineProps} />
      </Panel>
      <Txt x={k(27)} y={k(1142)}>*</Txt>
      <Txt x={k(50)} y={k(1142)}>Adjusted for second-hand asset transfers between the private</Txt>
      <Txt x={k(50)} y={k(1158)}>and other sectors</Txt>
      <Txt x={k(23)} y={k(1178)}>Source:</Txt>
      <Txt x={k(83)} y={k(1178)}>ABS</Txt>

      {/* ---------- Job Vacancies and Advertisements ---------- */}
      <Txt x={k(802)} y={k(516)} size={24.5} bold anchor="middle" color="#111">Job Vacancies and Advertisements</Txt>
      <Txt x={k(802)} y={k(541)} size={17.6} anchor="middle" color="#333">Per cent of labour force</Txt>
      <Panel px0={k(581)} px1={k(1025)} py0={k(555)} py1={k(896)} yWL={40} yWR={40} mb={30} xDomain={[2000, 2016.45]} fs={16.8}
        yDomain={[0.5, 2.5]} yTicks={[0.5, 1, 1.5, 2]} yFmt={(v) => v.toFixed(1)} grid={[1, 1.5, 2]} unit="%" leftLabels rightLabels
        tickYears={range(2001, 2016)} labelYears={[2003.5, 2007.5, 2011.5, 2015.5]}>
        <Line data={rows(advertisements)} dataKey="y" stroke={ADS} {...lineProps} />
        <Line data={rows(vacanciesPre)} dataKey="y" stroke={VAC} {...lineProps} />
        <Line data={rows(vacanciesPost)} dataKey="y" stroke={VAC} {...lineProps} />
        <ReferenceDot x={2010.7} y={2.31} r={1} shape={textShape('Advertisements', ADS, 17.6)} />
        <ReferenceDot x={2010.74} y={2.22} r={1} shape={textShape('(ANZ survey)', ADS, 14)} />
        <ReferenceDot x={2002.04} y={1.41} r={1} shape={textShape('Vacancies*', VAC, 17.8)} />
        <ReferenceDot x={2001.96} y={1.32} r={1} shape={textShape('(ABS survey)', VAC, 14)} />
      </Panel>
      <Txt x={k(570)} y={k(941)}>*</Txt>
      <Txt x={k(597)} y={k(941)}>This survey was suspended between May 2008 and November 2009</Txt>
      <Txt x={k(570)} y={k(962)}>Sources:</Txt>
      <Txt x={k(632)} y={k(962)}>ABS; ANZ</Txt>

      {/* ---------- Wage Price Index Growth ---------- */}
      <Txt x={k(226)} y={k(1203)} size={21.5} bold anchor="middle" color="#111">Wage Price Index Growth</Txt>
      <Panel {...wageCommon} px0={k(23)} px1={k(226)} yWL={22} yWR={0} data={privData} leftLabels>
        <Bar dataKey="qtr" fill={WAGE_BAR} isAnimationActive={false} />
        <Line dataKey="ye" stroke={WAGE_LINE} {...lineProps} />
        <ReferenceDot x="2007Q3" y={5.7} r={1} shape={textShape('Private sector', '#111', 14.5, 'middle', 700)} />
        <ReferenceDot x="2007Q1" y={4.7} r={1} shape={textShape('Year-ended', WAGE_LINE, 15.8)} />
        <ReferenceDot x="2005Q1" y={1.42} r={1} shape={textShape('Quarterly', WAGE_BAR, 15.5)} />
      </Panel>
      <Panel {...wageCommon} px0={k(226)} px1={k(430)} yWL={0} yWR={22} data={pubData} rightLabels>
        <Bar dataKey="qtr" fill={WAGE_BAR} isAnimationActive={false} />
        <Line dataKey="ye" stroke={WAGE_LINE} {...lineProps} />
        <ReferenceDot x="2007Q3" y={5.7} r={1} shape={textShape('Public sector', '#111', 14.5, 'middle', 700)} />
      </Panel>
      <Txt x={k(22)} y={k(1556)}>Source:</Txt>
      <Txt x={k(78)} y={k(1556)}>ABS</Txt>

      {/* ---------- Australian Bond Spreads ---------- */}
      <Txt x={k(790)} y={k(1057)} size={25} bold anchor="middle" color="#111">Australian Bond Spreads*</Txt>
      <Txt x={k(790)} y={k(1083)} size={18} anchor="middle" color="#333">Spread over government yields</Txt>
      <Panel px0={k(548)} px1={k(1030)} py0={k(1097)} py1={k(1450)} yWL={40} yWR={40} mb={30} xDomain={[1998, 2017]} fs={17}
        yDomain={[0, 600]} yTicks={[0, 100, 200, 300, 400, 500]} grid={[100, 200, 300, 400, 500]} unit="bps" leftLabels rightLabels
        tickYears={range(1999, 2016)} labelYears={[2000.5, 2004.5, 2008.5, 2012.5, 2016.5]}>
        <Line data={rows(spreadSwap)} dataKey="y" stroke={SWAP} {...lineProps} />
        <Line data={rows(spreadBBB)} dataKey="y" stroke={BBB} {...lineProps} />
        <Line data={rows(spreadA)} dataKey="y" stroke={ACOL} {...lineProps} />
        <Line data={rows(spreadAA)} dataKey="y" stroke={AACOL} {...lineProps} />
        <ReferenceDot x={2006.36} y={531} r={1} shape={textShape('BBB corporations', BBB, 18)} />
        <ReferenceDot x={2003.28} y={259} r={1} shape={textShape('AA corporations', AACOL, 18)} />
        <ReferenceLine segment={[{ x: 2005.84, y: 250 }, { x: 2008.17, y: 218 }]} ifOverflow="visible" shape={arrowShape(AACOL)} />
        <ReferenceDot x={2000.44} y={177} r={1} shape={textShape('A corporations', ACOL, 18)} />
        <ReferenceLine segment={[{ x: 1999.18, y: 156 }, { x: 1999.18, y: 54 }]} ifOverflow="visible" shape={arrowShape(ACOL)} />
        <ReferenceDot x={2010.46} y={68} r={1} shape={textShape('Swap', SWAP, 18)} />
      </Panel>
      <Txt x={k(550)} y={k(1497)}>*</Txt>
      <Txt x={k(577)} y={k(1497)}>Swap spreads are for 3-year maturity; corporate bond spreads are a</Txt>
      <Txt x={k(577)} y={k(1513)}>weighted average of senior bonds with remaining maturities of 1 to 5</Txt>
      <Txt x={k(577)} y={k(1529)}>years, including financial and non-financial corporations</Txt>
      <Txt x={k(550)} y={k(1552)}>Sources:</Txt>
      <Txt x={k(608)} y={k(1552)}>Bloomberg; RBA; UBS AG, Australia Branch</Txt>
    </div>
  );
}
